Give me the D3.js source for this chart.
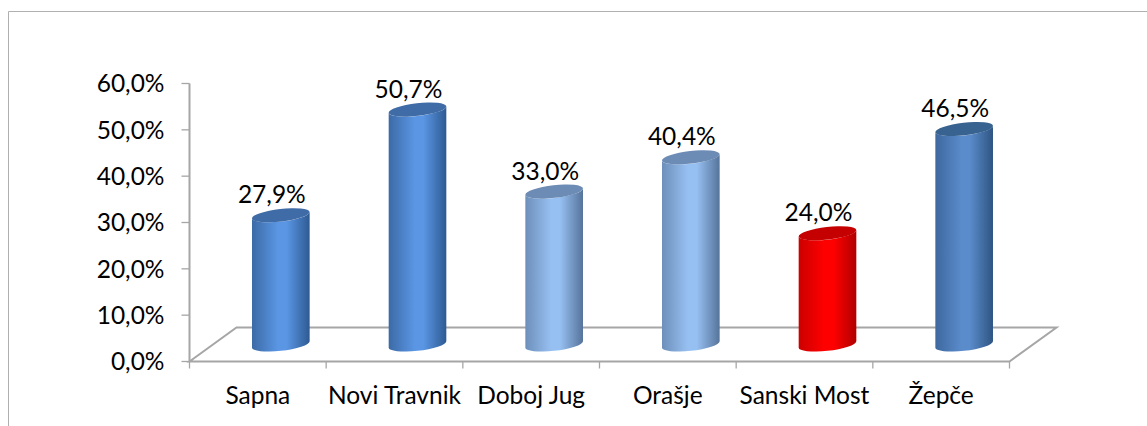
<!DOCTYPE html>
<html><head><meta charset="utf-8">
<style>html,body{margin:0;padding:0;background:#fff}svg{display:block}text{font-family:Lato,Carlito,sans-serif;fill:#000}</style>
<script src="https://cdn.jsdelivr.net/npm/d3@7"></script></head>
<body><svg id="c" width="1147" height="426"></svg>
<script>
const categories=["Sapna","Novi Travnik","Doboj Jug","Orašje","Sanski Most","Žepče"];
const values=[27.9,50.7,33.0,40.4,24.0,46.5];
const yTicks=[0,10,20,30,40,50,60];
const palettes=[
 ["#3c6aa6","#5a96e4","#2e5a92","#3f6ba6"],
 ["#3c6aa6","#5a96e4","#2e5a92","#3f6ba6"],
 ["#6d8fba","#97c0f2","#56749b","#6c8bb5"],
 ["#6d8fba","#97c0f2","#56749b","#6c8bb5"],
 ["#cc0000","#ff0000","#b00000","#c40000"],
 ["#3e689e","#5a8bcb","#2f5583","#38628f"]];
const fmt=v=>v.toFixed(1).replace(".",",")+"%";
const svg=d3.select("#c");
const L=189.5,R=1009.5,B=361.5,T=83.5,dx=47,dy=-34,grey="#a6a6a6";
const FS="24.5px";
const x=d3.scaleBand().domain(categories).range([L,R]);
const y=d3.scaleLinear().domain([0,60]).range([B,T]);
svg.append("path").attr("d","M8.5,426V11.5H1147").attr("fill","none").attr("stroke","#b0b0b0").attr("stroke-width",1);
svg.append("path").attr("d",`M${L},${B}L${L+dx},${B+dy}H${R+dx}L${R},${B}Z`).attr("fill","#fff").attr("stroke",grey).attr("stroke-width",2);
svg.append("line").attr("x1",L).attr("x2",L).attr("y1",T).attr("y2",B).attr("stroke",grey).attr("stroke-width",2);
const gy=svg.selectAll(".yt").data(yTicks).join("g").attr("transform",d=>`translate(0,${y(d)})`);
gy.append("line").attr("x1",L-8).attr("x2",L).attr("stroke",grey).attr("stroke-width",1.3);
gy.append("text").attr("x",L-25).attr("dy","0.36em").attr("text-anchor","end").style("font-size",FS).text(d=>fmt(d));
const xEdges=categories.map(c=>x(c)).concat([R]);
svg.selectAll(".xt").data(xEdges).join("line").attr("x1",d=>d).attr("x2",d=>d).attr("y1",B).attr("y2",B+7).attr("stroke",grey).attr("stroke-width",1.3);
svg.selectAll(".xl").data(categories).join("text").attr("x",d=>x(d)+x.bandwidth()/2).attr("y",404).attr("text-anchor","middle").style("font-size",FS).text(d=>d);
const defs=svg.append("defs");
const a=29,b=6.3,th=-6.5*Math.PI/180;
const t0=Math.atan(-(b/a)*Math.tan(th));
const ex=a*Math.cos(t0)*Math.cos(th)-b*Math.sin(t0)*Math.sin(th);
const ey=a*Math.cos(t0)*Math.sin(th)+b*Math.sin(t0)*Math.cos(th);
const rot=th*180/Math.PI;
const baseY=y(0)-17, k=(y(0)-y(1));
const cx=c=>x(c)+x.bandwidth()/2+23;
const topY=v=>baseY-v*k;
categories.forEach((c,i)=>{
  const p=palettes[i];
  const g=defs.append("linearGradient").attr("id","g"+i);
  [[0,p[0]],[.45,p[1]],[.6,p[1]],[1,p[2]]].forEach(s=>g.append("stop").attr("offset",s[0]).attr("stop-color",s[1]));
  const X=cx(c),ty=topY(values[i]);
  svg.append("path").attr("fill",`url(#g${i})`)
    .attr("d",`M${X-ex},${ty-ey}A${a},${b} ${rot} 0 0 ${X+ex},${ty+ey}V${baseY+ey}A${a},${b} ${rot} 0 1 ${X-ex},${baseY-ey}Z`);
  svg.append("ellipse").attr("cx",X).attr("cy",ty).attr("rx",a).attr("ry",b).attr("fill",p[3])
    .attr("transform",`rotate(${rot} ${X} ${ty})`);
  svg.append("text").attr("x",X-9).attr("y",ty-12).attr("text-anchor","middle").style("font-size",FS).text(fmt(values[i]));
});
</script></body></html>
